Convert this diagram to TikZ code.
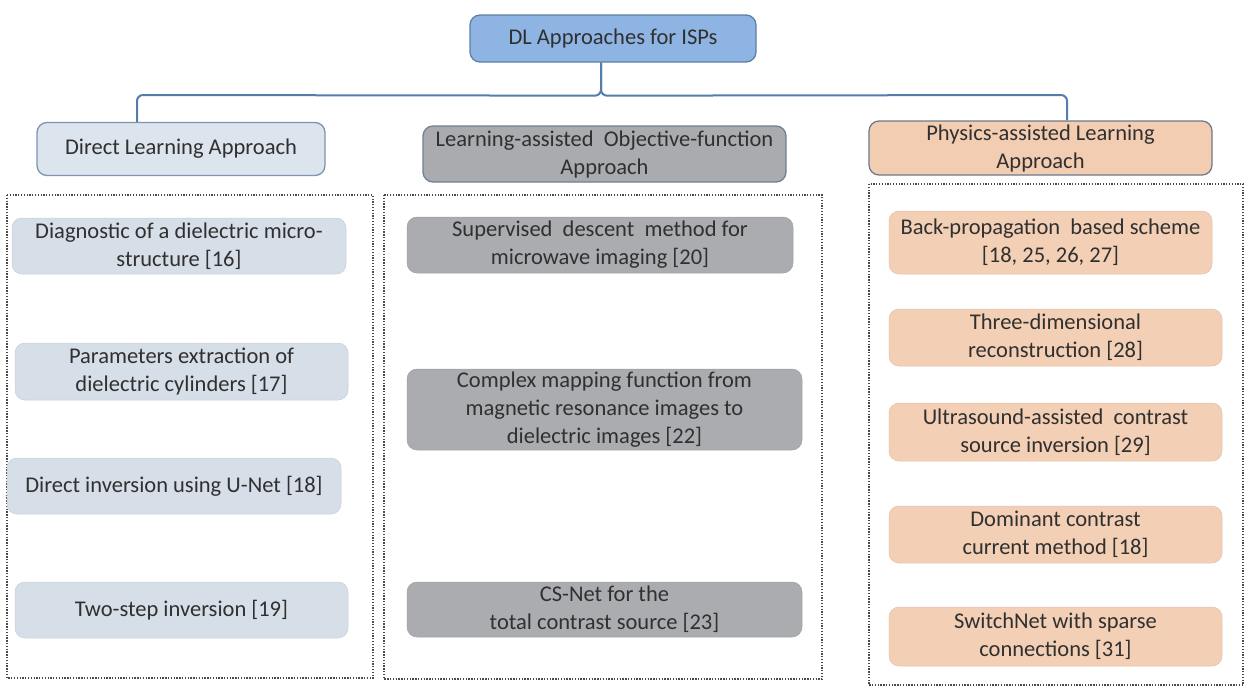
\documentclass[tikz,border=0pt]{standalone}
\usepackage{fontspec}
\setmainfont{Carlito}
\usetikzlibrary{calc}
\definecolor{txt}{HTML}{303030}
\definecolor{topfill}{HTML}{8EB4E3}
\definecolor{topline}{HTML}{5E7FA8}
\definecolor{dirfill}{HTML}{DCE4EE}
\definecolor{dirline}{HTML}{7F93AD}
\definecolor{laofill}{HTML}{A9ABAF}
\definecolor{laoline}{HTML}{6F7F95}
\definecolor{phyfill}{HTML}{F3CDB2}
\definecolor{phyline}{HTML}{6D7A8C}
\definecolor{ditem}{HTML}{D6DEE8}
\definecolor{mitem}{HTML}{AAACB0}
\definecolor{ritem}{HTML}{F3CFB5}
\definecolor{connc}{HTML}{527DAD}
\definecolor{dotc}{HTML}{4A4A4A}
\tikzset{
  box/.style={rectangle, rounded corners=10pt, align=center, text=txt,
    font=\fontsize{22.5}{28}\selectfont, inner sep=0pt},
  hdr/.style={box, line width=1.3pt},
  item/.style={box, draw=#1!93!black, line width=0.5pt, fill=#1},
  conn/.style={draw=connc, line width=2pt},
  cont/.style={draw=dotc, line width=1.5pt, dash pattern=on 1.3pt off 1.5pt},
}
\begin{document}
\begin{tikzpicture}[x=1pt,y=-1pt]
\useasboundingbox (0,0) rectangle (1249,688);
% header nodes
\node[hdr, draw=topline, fill=topfill, minimum width=286pt, minimum height=47pt] (top) at (613,38.5) {DL Approaches for ISPs};
\node[hdr, draw=dirline, fill=dirfill, minimum width=288pt, minimum height=53pt] (dir) at (181,149) {Direct Learning Approach};
\node[hdr, draw=laoline, fill=laofill, minimum width=363pt, minimum height=56pt] (lao) at (604.5,154) {Learning-assisted\ \ Objective-function\\Approach};
\node[hdr, draw=phyline, fill=phyfill, minimum width=343pt, minimum height=54pt] (phy) at (1040.5,148) {Physics-assisted Learning\\Approach};
% connectors
\coordinate (jm) at (601,95);
\coordinate (jl) at (137,95);
\coordinate (jr) at (1067,95);
\draw[conn] (top.south -| jm) -- ++(0,27) to[out=-90,in=0] ++(-6,6) -- ($(jl)+(6,0)$) to[out=180,in=90] ++(-6,6) -- (dir.north -| jl);
\draw[conn] (top.south -| jm) -- ++(0,27) to[out=-90,in=180] ++(6,6) -- ($(jr)+(-6,0)$) to[out=0,in=90] ++(6,6) -- (phy.north -| jr);
% containers
\draw[cont] (7,195) rectangle (373,678);
\draw[cont] (384,195) rectangle (822,679);
\draw[cont] (869,184) rectangle (1243,685);
% left items
\node[item=ditem, minimum width=334pt, minimum height=56pt] (d1) at (179,246) {Diagnostic of a dielectric micro-\\structure [16]};
\node[item=ditem, minimum width=333pt, minimum height=57pt] (d2) at (181.5,371.5) {Parameters extraction of\\dielectric cylinders [17]};
\node[item=ditem, minimum width=334pt, minimum height=56pt] (d3) at (174,486) {Direct inversion using U-Net [18]};
\node[item=ditem, minimum width=333pt, minimum height=56pt] (d4) at (181.5,610) {Two-step inversion [19]};
% middle items
\node[item=mitem, minimum width=386pt, minimum height=56pt] (m1) at (600,245) {Supervised\ \ descent\ \ method for\\microwave imaging [20]};
\node[item=mitem, minimum width=395pt, minimum height=81pt] (m2) at (604.5,409.5) {Complex mapping function from\\magnetic resonance images to\\dielectric images [22]};
\node[item=mitem, minimum width=395pt, minimum height=55pt] (m3) at (604.5,609.5) {CS-Net for the\\total contrast source [23]};
% right items
\node[item=ritem, minimum width=323pt, minimum height=63pt] (r1) at (1050.5,242.5) {Back-propagation\ \ based scheme\\{}[18, 25, 26, 27]};
\node[item=ritem, minimum width=333pt, minimum height=57pt] (r2) at (1055.5,337.5) {Three-dimensional\\reconstruction [28]};
\node[item=ritem, minimum width=333pt, minimum height=58pt] (r3) at (1055.5,432) {Ultrasound-assisted\ \ contrast\\source inversion [29]};
\node[item=ritem, minimum width=333pt, minimum height=57pt] (r4) at (1055.5,534.5) {Dominant contrast\\current method [18]};
\node[item=ritem, minimum width=333pt, minimum height=59pt] (r5) at (1055.5,636.5) {SwitchNet with sparse\\connections [31]};
\end{tikzpicture}
\end{document}
